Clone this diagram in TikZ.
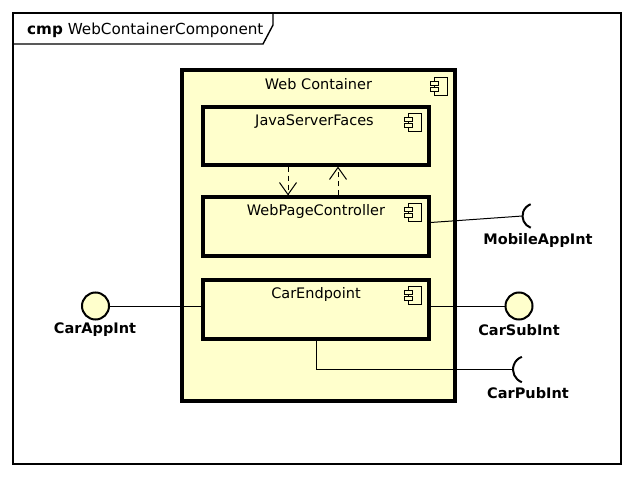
\documentclass[tikz,border=0pt]{standalone}
\usepackage{fontspec}
\setmainfont{DejaVu Sans}
\usetikzlibrary{arrows.meta}
\definecolor{umlyellow}{HTML}{FFFFCC}
\tikzset{
  compbox/.style={draw, line width=3.2pt, fill=umlyellow, inner sep=0pt},
  ttl/.style={inner sep=0pt, anchor=center},
  lbl/.style={inner sep=0pt, font=\fontsize{14.5}{17}\selectfont\bfseries},
  conn/.style={line width=1pt},
  iface/.style={circle, draw, line width=2pt, fill=umlyellow, minimum size=27pt, inner sep=0pt},
  sock/.style={line width=2pt},
  dep/.style={line width=1pt, dash pattern=on 5pt off 4pt, -{Straight Barb[length=12pt,width=17pt,line width=1pt]}},
  compicon/.pic={
    \draw[line width=1pt, fill=umlyellow] (-6,-9) rectangle (7,9);
    \draw[line width=1pt, fill=umlyellow] (-10,-5) rectangle (-2,-1);
    \draw[line width=1pt, fill=umlyellow] (-10,1) rectangle (-2,5);
  }
}
\begin{document}
\begin{tikzpicture}[x=1pt,y=-1pt, font=\fontsize{14.5}{17}\selectfont]
\useasboundingbox (0,0) rectangle (634,478);
% frame
\draw[line width=1.4pt] (13,13) rectangle (621,464);
\draw[line width=1.4pt] (13,44) -- (263,44) -- (273,25) -- (273,13);
\node[inner sep=0pt, anchor=west, font=\fontsize{15.2}{18}\selectfont] (tab) at (27,30) {{\bfseries cmp} WebContainerComponent};

% web container
\node[compbox, minimum width=273pt, minimum height=331pt] (wc) at (318.5,235.5) {};
\node[ttl] (wct) at ([yshift=-16pt]wc.north) {Web Container};
\pic at ([shift={(-16,18)}]wc.north east) {compicon};

% inner components
\node[compbox, minimum width=226pt, minimum height=58pt] (jsf) at (316,136) {};
\node[ttl] (jsft) at ([yshift=-16pt,xshift=-1.5pt]jsf.north) {JavaServerFaces};
\pic at ([shift={(-16,17)}]jsf.north east) {compicon};

\node[compbox, minimum width=226pt, minimum height=59pt] (wpc) at (316,226.5) {};
\node[ttl] (wpct) at ([yshift=-16pt]wpc.north) {WebPageController};
\pic at ([shift={(-16,17)}]wpc.north east) {compicon};

\node[compbox, minimum width=226pt, minimum height=59pt] (ce) at (316,309.5) {};
\node[ttl] (cet) at ([yshift=-16pt]ce.north) {CarEndpoint};
\pic at ([shift={(-16,17)}]ce.north east) {compicon};

% dependencies
\draw[dep] ([xshift=-28pt]jsf.south) -- ([xshift=-28pt]wpc.north);
\draw[dep] ([xshift=22pt]wpc.north) -- ([xshift=22pt]jsf.south);

% provided interfaces
\node[iface] (cai) at (95.5,306) {};
\node[lbl] (cail) at (95,330) {CarAppInt};
\draw[conn] (cai.east) -- (cai.east -| ce.west);

\node[iface] (csi) at (519,306) {};
\node[lbl] (csil) at (519,330) {CarSubInt};
\draw[conn] (csi.west -| ce.east) -- (csi.west);

% required interfaces
\coordinate (maic) at (535,216);
\coordinate (mais) at (522.5,216);
\draw[sock] ([shift={(110:12.5)}]maic) arc[start angle=110,end angle=250,radius=12.5];
\node[lbl] (mail) at (538,240) {MobileAppInt};
\draw[conn] ([yshift=4pt]wpc.east) -- (mais);

\coordinate (cpic) at (526.5,369.5);
\coordinate (cpis) at (513,369.5);
\draw[sock] ([shift={(110:13.5)}]cpic) arc[start angle=110,end angle=250,radius=13.5];
\node[lbl] (cpil) at (528,393) {CarPubInt};
\draw[conn] (ce.south) -- (ce.south |- cpis) -- (cpis);
\end{tikzpicture}
\end{document}
